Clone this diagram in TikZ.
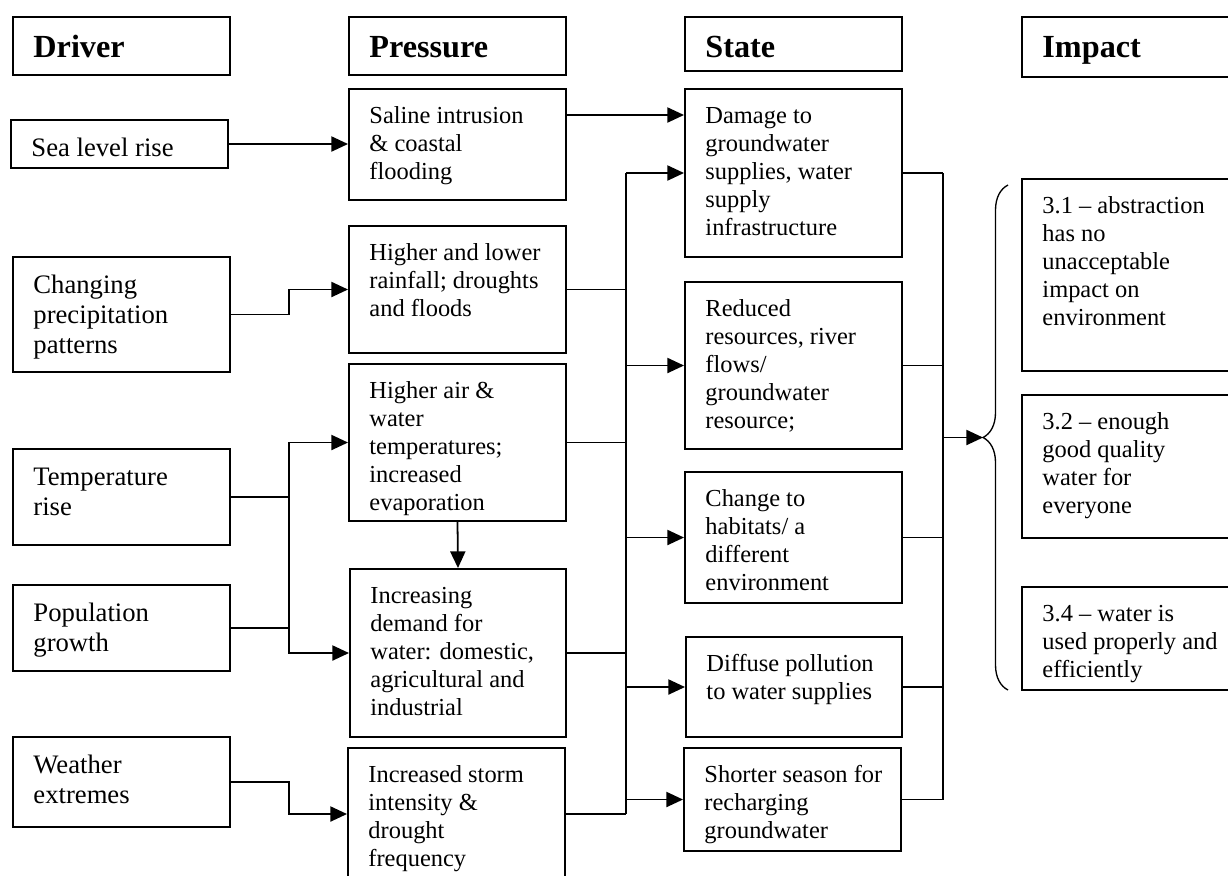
\documentclass[tikz,border=0pt]{standalone}
\usepackage{fontspec}
\setmainfont{Liberation Serif}
\usepackage{xcolor}
\definecolor{dpink}{HTML}{000000}
\usetikzlibrary{arrows.meta,decorations.pathreplacing}
\newcommand{\dpbody}{\fontsize{11pt}{12.5pt}\selectfont}
\newcommand{\dpdfont}{\fontsize{12pt}{13.5pt}\selectfont}
\newcommand{\dphfont}{\fontsize{14.5pt}{16pt}\selectfont\bfseries}
\tikzset{
  dpbox/.style   ={rectangle, draw=dpink, line width=0.9pt, fill=white, inner sep=0pt},
  dptext/.style  ={anchor=north west, inner sep=0pt, align=left, font=\dpbody, text=dpink,
                   xshift=9.45pt, yshift=-7.2pt},
  dpdrv/.style   ={dptext, font=\dpdfont},
  dphtext/.style ={dptext, font=\dphfont},
  dparrow/.style ={-{Triangle[length=7.5pt,width=6.8pt]}, line width=0.8pt, draw=dpink},
  dpline/.style  ={line width=0.8pt, draw=dpink},
  dpbrace/.style ={decorate, decoration={brace, amplitude=11.25pt}, line width=0.6pt, draw=dpink},
}
% box from (left,top) to (right,bottom) in pixels, text set at its top left
\newcommand{\dpbox}[7][dptext]{%
  \node[dpbox, minimum width={(#5-#3)*0.45pt}, minimum height={(#6-#4)*0.45pt}]
       (#2) at ({(#3+#5)/2},{(#4+#6)/2}) {};
  \node[#1] (#2-t) at (#2.north west) {\strut#7};}

\begin{document}
\begin{tikzpicture}[x=0.45pt, y=-0.45pt]
  \path[use as bounding box, fill=white] (0,0) rectangle (1228,875);
  % column heads
  \dpbox[dphtext]{hdrD}{13}{17}{230}{75}{Driver}
  \dpbox[dphtext]{hdrP}{349}{17}{566}{75}{Pressure}
  \dpbox[dphtext]{hdrS}{685}{17}{902}{71}{State}
  \dpbox[dphtext]{hdrI}{1022}{17}{1240}{77}{Impact}
  % drivers
  \dpbox[dpdrv]{sea}{11}{120}{228}{168}{Sea level rise}
  \dpbox[dpdrv]{chg}{13}{257}{230}{372}{Changing\\precipitation\\patterns}
  \dpbox[dpdrv]{temp}{13}{449}{230}{545}{Temperature\\rise}
  \dpbox[dpdrv]{pop}{13}{585}{230}{671}{Population\\growth}
  \dpbox[dpdrv]{wea}{13}{737}{230}{827}{Weather\\extremes}
  % pressures
  \dpbox{sal}{349}{89}{566}{200}{Saline intrusion\\\& coastal\\flooding}
  \dpbox{rain}{349}{226}{566}{353}{Higher and lower\\rainfall; droughts\\and floods}
  \dpbox{air}{349}{364}{566}{521}{Higher air \&\\water\\temperatures;\\increased\\evaporation}
  \dpbox{dem}{350}{569}{566}{737}{Increasing\\demand for\\water: domestic,\\agricultural and\\industrial}
  \dpbox{storm}{348}{748}{565}{880}{Increased storm\\intensity \&\\drought\\frequency}
  % states
  \dpbox{dmg}{685}{89}{902}{257}{Damage to\\groundwater\\supplies, water\\supply\\infrastructure}
  \dpbox{red}{685}{282}{902}{449}{Reduced\\resources, river\\flows/\\groundwater\\resource;}
  \dpbox{chn}{685}{472}{902}{603}{Change to\\habitats/ a\\different\\environment}
  \dpbox{dif}{686}{637}{902}{737}{Diffuse pollution\\to water supplies}
  \dpbox{sho}{684}{748}{901}{851}{Shorter season for\\recharging\\groundwater}
  % impacts
  \dpbox{i31}{1022}{179}{1240}{371}{3.1 – abstraction\\has no\\unacceptable\\impact on\\environment}
  \dpbox{i32}{1022}{395}{1240}{538}{3.2 – enough\\good quality\\water for\\everyone}
  \dpbox{i34}{1022}{587}{1240}{690}{3.4 – water is\\used properly and\\efficiently}
  % junction columns
  \coordinate (jL) at (289,0);
  \coordinate (jM) at (626,0);
  \coordinate (jR) at (943,0);
  \coordinate (sl) at (0,115);
  \coordinate (brtop) at (1008,185);
  \coordinate (brbot) at (1008,690);
  \coordinate (brtip) at (983,437.5);
  % drivers to pressures
  \draw[dparrow] (sea.east) -- (sea.east -| sal.west);
  \draw[dparrow] (chg.east) -- (chg.east -| jL) |- (rain.west);
  \draw[dparrow] (temp.east) -- (temp.east -| jL) |- (air.west);
  \draw[dparrow] (temp.east -| jL) |- (dem.west);
  \draw[dpline]  (pop.east) -- (pop.east -| jL);
  \draw[dparrow] (wea.east) -- (wea.east -| jL) |- (storm.west);
  \draw[dparrow] (air.south) -- (dem.north);
  % pressures to states
  \draw[dparrow] (sal.east |- sl) -- (dmg.west |- sl);
  \foreach \p in {rain,air,dem,storm}
    \draw[dpline] (\p.east) -- (\p.east -| jM);
  \draw[dpline] (dmg.west -| jM) -- (storm.east -| jM);
  \foreach \s in {dmg,red,chn,dif,sho}
    \draw[dparrow] (\s.west -| jM) -- (\s.west);
  % states to impacts
  \foreach \s in {dmg,red,chn,dif,sho}
    \draw[dpline] (\s.east) -- (\s.east -| jR);
  \draw[dpline] (dmg.east -| jR) -- (sho.east -| jR);
  \draw[dparrow] (brtip -| jR) -- (brtip);
  \draw[dpbrace] (brbot) -- (brtop);
\end{tikzpicture}
\end{document}
